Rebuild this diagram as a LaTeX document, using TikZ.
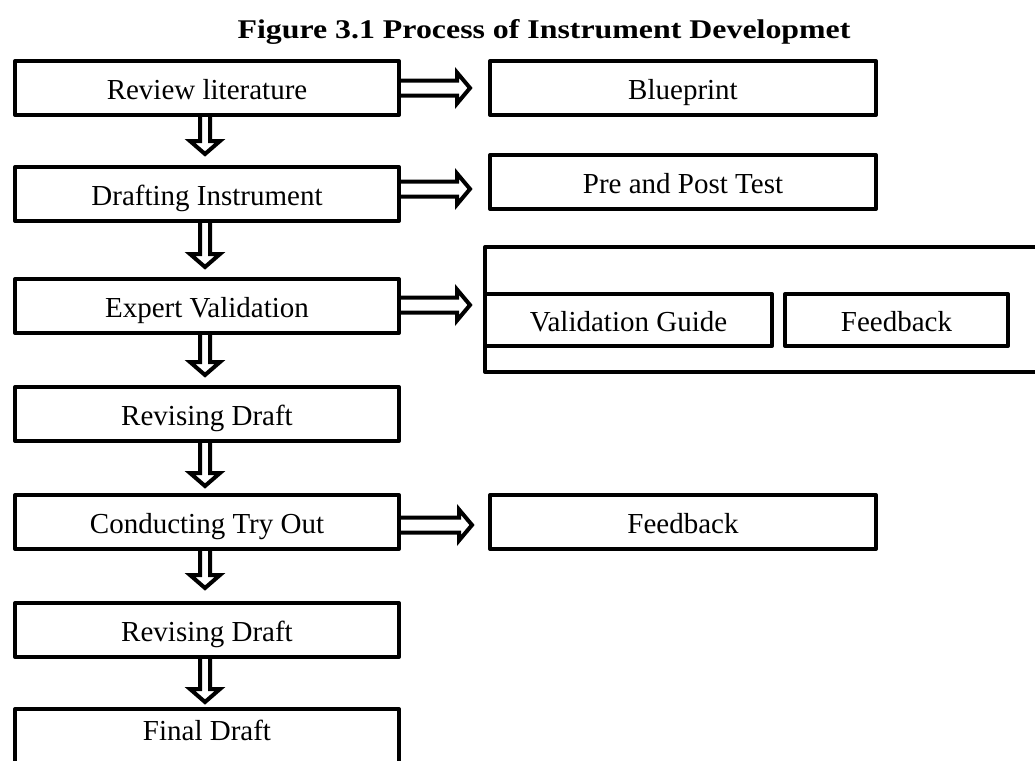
\documentclass[tikz,border=0pt]{standalone}
\usepackage{fontspec}
\setmainfont{Liberation Serif}
\usetikzlibrary{calc}
\tikzset{
  box/.style={draw, line width=4pt, line join=round, inner sep=0pt, outer sep=0pt,
    minimum height=54pt, font=\fontsize{29}{34}\selectfont, text height=24pt, text depth=2pt},
  lbox/.style={box, minimum width=384pt},
  rbox/.style={box, minimum width=386pt},
  darrow/.style={draw, line width=4pt, line join=miter, to path={
    let \p1=(\tikztostart), \p2=(\tikztotarget) in
    (\x1-5pt,\y1) -- (\x1-5pt,\y2+13pt) -- (\x1-15pt,\y2+13pt) -- (\x1,\y2)
    -- (\x1+15pt,\y2+13pt) -- (\x1+5pt,\y2+13pt) -- (\x1+5pt,\y1)}},
  rarrow/.style={draw, line width=4pt, line join=miter, to path={
    let \p1=(\tikztostart), \p2=(\tikztotarget) in
    (\x1,\y1+7.5pt) -- (\x2-13pt,\y1+7.5pt) -- (\x2-13pt,\y1+15.5pt) -- (\x2,\y1)
    -- (\x2-13pt,\y1-15.5pt) -- (\x2-13pt,\y1-7.5pt) -- (\x1,\y1-7.5pt)}}
}
\begin{document}
\begin{tikzpicture}[x=1pt,y=-1pt]
\useasboundingbox (0,0) rectangle (1035,760);
\node[font=\bfseries\fontsize{27}{32}\selectfont, anchor=base] (title) at (544,38)
  {\scalebox{1.18}[1]{Figure 3.1 Process of Instrument Developmet}};
% left column
\node[lbox] (review) at (207,88) {Review literature};
\node[lbox] (draft) at (207,194) {Drafting Instrument};
\node[lbox] (expert) at (207,306) {Expert Validation};
\node[lbox] (rev1) at (207,414) {Revising Draft};
\node[lbox] (conduct) at (207,522) {Conducting Try Out};
\node[lbox] (rev2) at (207,630) {Revising Draft};
\node[lbox, text height=20pt, text depth=11pt] (final) at (207,736) {Final Draft};
% right column
\node[rbox] (blue) at (683,88) {Blueprint};
\node[rbox] (pre) at (683,182) {Pre and Post Test};
\node[box, minimum width=575pt, minimum height=125pt] (grp) at (772.5,309.5) {};
\node[box, minimum width=287pt, minimum height=52pt] (vguide) at (628.5,320) {Validation Guide};
\node[box, minimum width=223pt, minimum height=52pt] (fb1) at (896.5,320) {Feedback};
\node[rbox] (fb2) at (683,522) {Feedback};
% down arrows
\draw[darrow] ([xshift=-2pt]review.south) to ([yshift=13pt]draft.north);
\draw[darrow] ([xshift=-2pt]draft.south) to ([yshift=12pt]expert.north);
\draw[darrow] ([xshift=-2pt]expert.south) to ([yshift=12pt]rev1.north);
\draw[darrow] ([xshift=-2pt]rev1.south) to ([yshift=9pt]conduct.north);
\draw[darrow] ([xshift=-2pt]conduct.south) to ([yshift=15pt]rev2.north);
\draw[darrow] ([xshift=-2pt]rev2.south) to ([yshift=7pt]final.north);
% right arrows
\draw[rarrow] (review.east) to ([xshift=-20pt]blue.west);
\draw[rarrow] ([yshift=5pt]draft.east) to ([xshift=-20pt,yshift=-7pt]pre.west);
\draw[rarrow] ([yshift=1pt]expert.east) to ([xshift=-15pt]grp.west);
\draw[rarrow] ([yshift=-3pt]conduct.east) to ([xshift=-18pt,yshift=-3pt]fb2.west);
\end{tikzpicture}
\end{document}
